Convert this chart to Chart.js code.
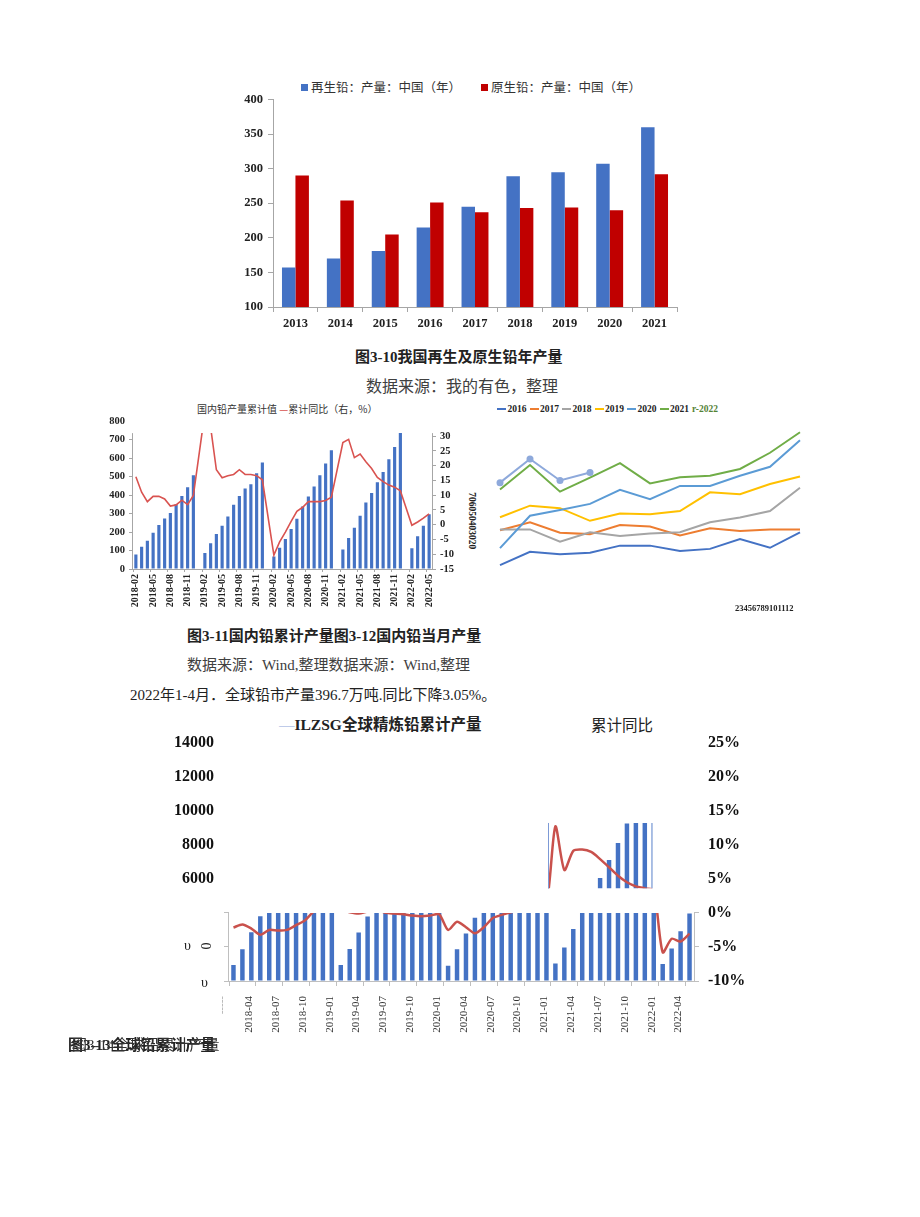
<!DOCTYPE html>
<html>
<head>
<meta charset="utf-8">
<script src="https://cdn.jsdelivr.net/npm/chart.js@4.4.1/dist/chart.umd.min.js"></script>
<style>
  body { margin: 0; width: 920px; height: 1217px; position: relative; overflow: hidden; background: #fff;
         font-family: "Noto Sans CJK SC", sans-serif; color: #222; }
  .t { position: absolute; white-space: nowrap; line-height: 1; }
  .serif { font-family: "Liberation Serif", "Noto Sans CJK SC", serif; }
  .box { position: absolute; width: 7px; height: 7px; }
  canvas { position: absolute; }
  .lg4 { display: inline-flex; align-items: center; margin-right: 3px; font: bold 9.5px "Liberation Serif", serif; }
  .lg4 i { display: inline-block; width: 9px; height: 1.5px; margin-right: 1.5px; }
</style>
</head>
<body>

<!-- 图3-10 -->
<div class="box" style="left:301px;top:84px;background:#4472C4"></div>
<div class="t" style="left:311px;top:81px;font-size:12.5px;color:#333">再生铅：产量：中国（年）</div>
<div class="box" style="left:481px;top:84px;background:#C00000"></div>
<div class="t" style="left:491px;top:81px;font-size:12.5px;color:#333">原生铅：产量：中国（年）</div>
<canvas id="c1" width="467" height="250" style="left:220px;top:87px"></canvas>
<div class="t serif" style="left:355px;top:349.5px;font-size:15px;font-weight:bold">图3-10我国再生及原生铅年产量</div>
<div class="t" style="left:366px;top:377px;font-size:16px;color:#404040">数据来源：我的有色，整理</div>

<!-- 图3-11 -->
<div class="t" style="left:197px;top:404px;font-size:10px;color:#333">国内铅产量累计值 <span style="color:#D95350">—</span>累计同比（右，%）</div>
<canvas id="c2" width="369" height="200" style="left:93px;top:411px"></canvas>

<!-- 图3-12 -->
<div class="t" style="left:497px;top:404px;display:flex">
  <span class="lg4"><i style="background:#4472C4"></i>2016</span>
  <span class="lg4"><i style="background:#ED7D31"></i>2017</span>
  <span class="lg4"><i style="background:#A5A5A5"></i>2018</span>
  <span class="lg4"><i style="background:#FFC000"></i>2019</span>
  <span class="lg4"><i style="background:#5B9BD5"></i>2020</span>
  <span class="lg4"><i style="background:#70AD47"></i>2021</span>
  <span class="lg4" style="color:#548235">r-2022</span>
</div>
<div class="t serif" style="left:443px;top:516px;font-size:9.5px;font-weight:bold;transform:rotate(90deg)">706050403020</div>
<canvas id="c4" width="320" height="200" style="left:490px;top:410px"></canvas>
<div class="t serif" style="left:735px;top:604px;font-size:8.5px;font-weight:bold">23456789101112</div>

<div class="t serif" style="left:187px;top:628.5px;font-size:15px;font-weight:bold">图3-11国内铅累计产量图3-12国内铅当月产量</div>
<div class="t serif" style="left:187px;top:657.5px;font-size:15px;color:#404040">数据来源：Wind,整理数据来源：Wind,整理</div>
<div class="t serif" style="left:130px;top:687.5px;font-size:15px;color:#222">2022年1-4月．全球铅市产量396.7万吨.同比下降3.05%。</div>

<!-- 图3-13 -->
<div class="t serif" style="left:279px;top:716.5px;font-size:15.5px;font-weight:bold"><span style="color:#8EA9DB;font-weight:normal">—</span>ILZSG全球精炼铅累计产量</div>
<div class="t" style="left:591px;top:717px;font-size:15.5px">累计同比</div>
<canvas id="c3" width="630" height="333" style="left:150px;top:723px"></canvas>
<div class="t serif" style="left:184px;top:939px;font-size:14px">υ</div>
<div class="t serif" style="left:201px;top:939px;font-size:14px;transform:rotate(90deg)">0</div>
<div class="t serif" style="left:201px;top:976px;font-size:14px">υ</div>
<div class="t serif" style="left:68px;top:1037.5px;font-size:15px;font-weight:bold">图3-13全球铅累计产量</div>
<div class="t serif" style="left:72px;top:1038px;font-size:15px;color:#333">图3-14全球铅累计产量</div>

<script>
// ---- 图3-10 我国再生及原生铅年产量 ----
const years1 = ['2013', '2014', '2015', '2016', '2017', '2018', '2019', '2020', '2021'];
const recycledLead = [157, 170, 181, 215, 245, 289, 295, 307, 360];
const primaryLead = [290, 254, 205, 251, 237, 243, 244, 240, 292];

// ---- 图3-11 国内铅累计产量 ----
const months2 = [
  '2018-02', '2018-03', '2018-04', '2018-05', '2018-06', '2018-07', '2018-08', '2018-09', '2018-10', '2018-11', '2018-12',
  '2019-01', '2019-02', '2019-03', '2019-04', '2019-05', '2019-06', '2019-07', '2019-08', '2019-09', '2019-10', '2019-11', '2019-12',
  '2020-01', '2020-02', '2020-03', '2020-04', '2020-05', '2020-06', '2020-07', '2020-08', '2020-09', '2020-10', '2020-11', '2020-12',
  '2021-01', '2021-02', '2021-03', '2021-04', '2021-05', '2021-06', '2021-07', '2021-08', '2021-09', '2021-10', '2021-11', '2021-12',
  '2022-01', '2022-02', '2022-03', '2022-04', '2022-05'
];
const cumOutput2 = [
  79, 121, 153, 196, 238, 274, 303, 351, 396, 443, 508,
  null, 86, 139, 189, 234, 285, 348, 396, 436, 459, 519, 577,
  null, 68, 115, 162, 216, 272, 339, 393, 447, 508, 571, 643,
  null, 106, 168, 223, 288, 360, 411, 470, 526, 595, 661, 740,
  null, 112, 177, 234, 297
];
const cumYoY2 = [
  16.2, 11.0, 7.8, 9.6, 9.6, 8.7, 6.3, 6.7, 8.3, 6.8, 9.9,
  null, 38, 33, 18.6, 15.9, 16.6, 17.0, 18.6, 17.0, 17.0, 16.6, 15.2,
  null, -10.3, -5.8, -2.5, 1.1, 4.5, 5.9, 7.8, 7.8, 7.8, 8.2, 9.3,
  null, 27.8, 28.9, 22.7, 23.9, 21.3, 19.0, 16.0, 14.6, 13.4, 12.7, 11.5,
  null, -0.2, 0.9, 2.2, 3.7
];
const visibleTop2 = 736; // 图中左轴只露出到这里

// ---- 图3-12 国内铅当月产量 ----
const monthLabels4 = ['2', '3', '4', '5', '6', '7', '8', '9', '10', '11', '12'];
const monthly2016 = [29.7, 33.4, 32.7, 33.1, 35.1, 35.1, 33.6, 34.2, 36.9, 34.5, 38.8];
const monthly2017 = [39.4, 41.6, 38.7, 38.3, 40.8, 40.4, 37.9, 39.9, 39.2, 39.6, 39.6];
const monthly2018 = [39.6, 39.6, 36.2, 38.8, 37.8, 38.5, 38.8, 41.6, 42.9, 44.7, 51.2];
const monthly2019 = [43.0, 46.2, 45.5, 42.0, 44.0, 43.8, 44.7, 49.9, 49.4, 52.2, 54.3];
const monthly2020 = [34.4, 43.4, 45.0, 46.7, 50.6, 48.0, 51.7, 51.7, 54.5, 57.0, 64.4];
const monthly2021 = [50.7, 57.5, 50.1, 54.0, 58.0, 52.4, 54.1, 54.5, 56.4, 60.9, 66.6];
const monthly2022 = [52.6, 59.2, 53.2, 55.4];

// ---- 图3-13 ILZSG全球精炼铅累计产量 ----
const months3 = [
  '2018-01', '2018-02', '2018-03', '2018-04', '2018-05', '2018-06', '2018-07', '2018-08', '2018-09', '2018-10', '2018-11', '2018-12',
  '2019-01', '2019-02', '2019-03', '2019-04', '2019-05', '2019-06', '2019-07', '2019-08', '2019-09', '2019-10', '2019-11', '2019-12',
  '2020-01', '2020-02', '2020-03', '2020-04', '2020-05', '2020-06', '2020-07', '2020-08', '2020-09', '2020-10', '2020-11', '2020-12',
  '2021-01', '2021-02', '2021-03', '2021-04', '2021-05', '2021-06', '2021-07', '2021-08', '2021-09', '2021-10', '2021-11', '2021-12',
  '2022-01', '2022-02', '2022-03', '2022-04'
];
const ilzsgCum = [
  940, 1870, 2860, 3800, 4810, 5790, 6770, 7760, 8740, 9750, 10730, 11700,
  945, 1880, 2850, 3790, 4820, 5800, 6770, 7750, 8710, 9700, 10690, 11680,
  900, 1870, 2790, 3720, 4700, 5740, 6750, 7760, 8740, 9760, 10780, 11820,
  1035, 1970, 3060, 4100, 5110, 6050, 7100, 8100, 9250, 10250, 11250, 12300,
  995, 1910, 2920, 3967
];
const ilzsgYoY = [
  -2.15, -1.7, -2.3, -3.2, -2.5, -2.6, -2.5, -1.8, -1.1, 0.2, 0.7, 1.0,
  0.5, 0.1, -0.1, 0.2, 0.4, 0.0, -0.1, -0.2, -0.4, -0.5, -0.4, -0.2,
  -2.5, -1.3, -2.1, -3.0, -2.1, -0.75, -0.3, 0.1, 0.4, 0.6, 0.9, 1.2,
  12.7, 6.3, 9.1, 9.3, 8.95, 7.9, 6.7, 5.45, 4.5, 3.9, 3.6, 3.3,
  -5.8, -3.8, -4.2, -3.05
];
// 原图只露出的一小块窗口（类目序号 / 右轴百分比）
const ilzsgWindow = { from: 35.2, to: 46.85, top: 13.2, bottom: 3.6 };

Chart.defaults.font.family = '"Liberation Serif", "Noto Sans CJK SC", serif';
Chart.defaults.animation = false;
Chart.defaults.responsive = false;
Chart.defaults.plugins.legend.display = false;
Chart.defaults.plugins.tooltip.enabled = false;

const axisGray = '#a6a6a6';
const clear = 'rgba(0,0,0,0)';

// 只在给定矩形内画数据
function partialView(id, rectsOf, afterDraw) {
  return {
    id: id,
    beforeDatasetsDraw(chart) {
      const ctx = chart.ctx;
      ctx.save();
      ctx.beginPath();
      rectsOf(chart).forEach(r => ctx.rect(r[0], r[1], r[2], r[3]));
      ctx.clip();
    },
    afterDatasetsDraw(chart) {
      chart.ctx.restore();
      if (afterDraw) afterDraw(chart);
    }
  };
}

function vline(ctx, x, y1, y2, color) {
  ctx.save();
  ctx.strokeStyle = color;
  ctx.lineWidth = 1;
  ctx.beginPath();
  ctx.moveTo(Math.round(x) + 0.5, y1);
  ctx.lineTo(Math.round(x) + 0.5, y2);
  ctx.stroke();
  ctx.restore();
}

// 图3-10
new Chart(document.getElementById('c1'), {
  type: 'bar',
  data: {
    labels: years1,
    datasets: [
      { label: '再生铅：产量：中国（年）', data: recycledLead, backgroundColor: '#4472C4' },
      { label: '原生铅：产量：中国（年）', data: primaryLead, backgroundColor: '#C00000' }
    ]
  },
  options: {
    layout: { padding: { top: 8, right: 10, left: 0, bottom: 0 } },
    datasets: { bar: { categoryPercentage: 0.6, barPercentage: 1 } },
    scales: {
      x: {
        grid: { offset: true, drawOnChartArea: false, tickLength: 5, color: axisGray },
        border: { color: axisGray },
        ticks: { font: { size: 12.5, weight: 'bold' }, color: '#222', padding: 4 },
        afterFit: s => { s.height = 30; }
      },
      y: {
        min: 100, max: 400,
        grid: { drawOnChartArea: false, tickLength: 5, color: axisGray },
        border: { color: axisGray },
        ticks: { stepSize: 50, font: { size: 12.5, weight: 'bold' }, color: '#222', padding: 5 },
        afterFit: s => { s.width = 53; }
      }
    }
  }
});

// 图3-11
new Chart(document.getElementById('c2'), {
  type: 'bar',
  data: {
    labels: months2,
    datasets: [
      { type: 'line', label: '累计同比（右，%）', data: cumYoY2, yAxisID: 'yR', borderColor: '#D95350',
        borderWidth: 1.6, pointRadius: 0, spanGaps: true, tension: 0, order: 0 },
      { label: '国内铅产量累计值', data: cumOutput2, yAxisID: 'yL', backgroundColor: '#4472C4',
        categoryPercentage: 1, barPercentage: 0.55, order: 1 }
    ]
  },
  options: {
    layout: { padding: { top: 6, right: 0, left: 0, bottom: 0 } },
    scales: {
      x: {
        grid: { offset: true, drawOnChartArea: false, tickLength: 3, color: c => c.index % 3 === 0 ? axisGray : clear },
        border: { color: axisGray },
        ticks: { autoSkip: false, minRotation: 90, maxRotation: 90, padding: 2,
                 font: { size: 10, weight: 'bold' }, color: '#222',
                 callback: (v, i) => i % 3 === 0 ? months2[i] : '' },
        afterFit: s => { s.height = 42; }
      },
      yL: {
        position: 'left', min: 0, max: 800,
        grid: { drawOnChartArea: false, tickLength: 4, color: c => c.tick && c.tick.value <= 700 ? axisGray : clear },
        border: { display: false },
        ticks: { stepSize: 100, autoSkip: false, font: { size: 10.5, weight: 'bold' }, color: '#222', padding: 4 },
        afterFit: s => { s.width = 40; }
      },
      yR: {
        position: 'right', min: -15, max: 35,
        grid: { drawOnChartArea: false, tickLength: 4, color: c => c.tick && c.tick.value <= 30 ? axisGray : clear },
        border: { display: false },
        ticks: { stepSize: 5, autoSkip: false, font: { size: 10.5, weight: 'bold' }, color: '#222', padding: 4,
                 callback: v => v > 30 ? '' : v },
        afterFit: s => { s.width = 30; }
      }
    }
  },
  plugins: [partialView('cut2',
    chart => {
      const a = chart.chartArea, top = chart.scales.yL.getPixelForValue(visibleTop2);
      return [[a.left, top, a.right - a.left, a.bottom - top + 2]];
    },
    chart => {
      const a = chart.chartArea, top = chart.scales.yL.getPixelForValue(visibleTop2);
      vline(chart.ctx, a.left - 1, top, a.bottom, axisGray);
      vline(chart.ctx, a.right, top, a.bottom, axisGray);
    })]
});

// 图3-12
const lineSet = (label, data, color) => ({ label, data, borderColor: color, backgroundColor: color,
  borderWidth: 2, pointRadius: 0, tension: 0 });
new Chart(document.getElementById('c4'), {
  type: 'line',
  data: {
    labels: monthLabels4,
    datasets: [
      Object.assign(lineSet('2022', monthly2022, '#8EA9DB'), { pointRadius: 3.5, pointBorderWidth: 0 }),
      lineSet('2021', monthly2021, '#70AD47'),
      lineSet('2020', monthly2020, '#5B9BD5'),
      lineSet('2019', monthly2019, '#FFC000'),
      lineSet('2018', monthly2018, '#A5A5A5'),
      lineSet('2017', monthly2017, '#ED7D31'),
      lineSet('2016', monthly2016, '#4472C4')
    ]
  },
  options: {
    layout: { padding: 10 },
    scales: {
      x: { display: false, offset: false },
      y: { display: false, min: 20, max: 70 }
    }
  }
});

// 图3-13
new Chart(document.getElementById('c3'), {
  type: 'bar',
  data: {
    labels: months3,
    datasets: [
      { type: 'line', label: '累计同比', data: ilzsgYoY, yAxisID: 'yR', borderColor: '#C9514C',
        borderWidth: 2.5, pointRadius: 0, tension: 0.25, order: 0 },
      { label: 'ILZSG全球精炼铅累计产量', data: ilzsgCum, yAxisID: 'yL', backgroundColor: '#4472C4',
        categoryPercentage: 1, barPercentage: 0.5, order: 1 }
    ]
  },
  options: {
    layout: { padding: { top: 10, right: 0, left: 0, bottom: 0 } },
    scales: {
      x: {
        grid: { offset: true, drawOnChartArea: false, tickLength: 5, color: c => c.index % 3 === 0 ? '#bfbfbf' : clear },
        border: { color: '#bfbfbf' },
        ticks: { autoSkip: false, minRotation: 90, maxRotation: 90, padding: 10, labelOffset: -11,
                 font: { size: 11 }, color: c => c.index === 0 ? '#aaa' : '#333',
                 callback: (v, i) => i === 0 ? '-----' : (i % 3 === 0 ? months3[i] : '') },
        afterFit: s => { s.height = 75; }
      },
      yL: {
        position: 'left', min: 0, max: 14000,
        grid: { drawOnChartArea: false, tickLength: 5, color: c => c.tick && c.tick.value <= 4000 ? '#bfbfbf' : clear },
        border: { display: false },
        ticks: { stepSize: 2000, autoSkip: false, font: { size: 16, weight: 'bold' }, color: '#111', padding: 10,
                 callback: v => v > 4000 ? v : '' },
        afterFit: s => { s.width = 79; }
      },
      yR: {
        position: 'right', min: -10, max: 25,
        grid: { drawOnChartArea: false, tickLength: 5, color: c => c.tick && c.tick.value <= 0 ? '#bfbfbf' : clear },
        border: { display: false },
        ticks: { stepSize: 5, autoSkip: false, font: { size: 16, weight: 'bold' }, color: '#111', padding: 9,
                 callback: v => v + '%' },
        afterFit: s => { s.width = 86; }
      }
    }
  },
  plugins: [partialView('cut3',
    chart => {
      const a = chart.chartArea, x = chart.scales.x, yr = chart.scales.yR;
      const zero = yr.getPixelForValue(0);
      const wl = x.getPixelForValue(ilzsgWindow.from), wr = x.getPixelForValue(ilzsgWindow.to);
      const wt = yr.getPixelForValue(ilzsgWindow.top), wb = yr.getPixelForValue(ilzsgWindow.bottom);
      return [[a.left, zero, a.right - a.left, a.bottom - zero + 2], [wl, wt, wr - wl, wb - wt]];
    },
    chart => {
      const a = chart.chartArea, x = chart.scales.x, yr = chart.scales.yR;
      const zero = yr.getPixelForValue(0);
      vline(chart.ctx, a.left - 1, zero, a.bottom, '#bfbfbf');
      vline(chart.ctx, a.right, zero, a.bottom, '#bfbfbf');
      vline(chart.ctx, x.getPixelForValue(ilzsgWindow.from), yr.getPixelForValue(ilzsgWindow.top),
            yr.getPixelForValue(ilzsgWindow.bottom), '#7d9ad6');
    })]
});
</script>
</body>
</html>
